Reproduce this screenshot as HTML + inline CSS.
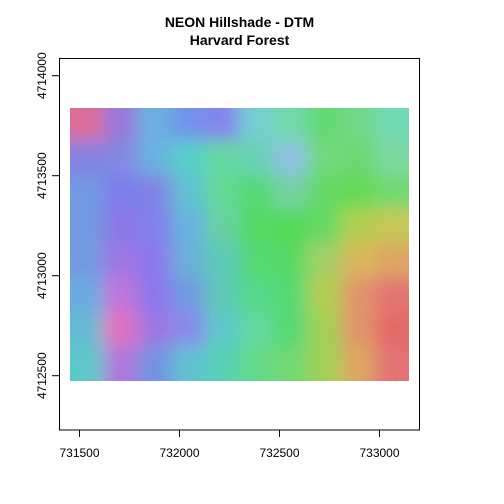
<!DOCTYPE html>
<html><head><meta charset="utf-8"><style>
html,body{margin:0;padding:0;background:#fff;}
svg{display:block;font-family:"Liberation Sans",Arial,sans-serif;}
</style></head><body>
<svg id="chart" width="504" height="504" viewBox="0 0 504 504">
<defs>
<filter id="blur" x="-10%" y="-10%" width="120%" height="120%"><feGaussianBlur stdDeviation="9"/><feColorMatrix type="saturate" values="1.3"/></filter>
<filter id="noise"><feTurbulence type="fractalNoise" baseFrequency="0.9" numOctaves="2" seed="3"/><feColorMatrix type="matrix" values="0 0 0 0 1  0 0 0 0 1  0 0 0 0 1  0 0 0 0.18 0"/></filter>
<clipPath id="rclip"><rect x="70" y="108" width="339" height="273"/></clipPath>
</defs>
<text x="239.5" y="27" text-anchor="middle" font-size="14" font-weight="bold">NEON Hillshade - DTM</text>
<text x="239.5" y="45" text-anchor="middle" font-size="14" font-weight="bold">Harvard Forest</text>
<g id="raster" clip-path="url(#rclip)"></g>
<rect x="59.5" y="58.5" width="360" height="371.5" fill="none" stroke="#000" stroke-width="1"/>
<g id="axes"></g>
</svg>
<script>
const xTicks=[731500,732000,732500,733000];
const yTicks=[4712500,4713000,4713500,4714000];
const extentX=[731452,733147];
const extentY=[4712479,4713844];
const colors=[
["#c86a8a","#8a70c8","#70a8d0","#7088d8","#7c7cd8","#80c8c8","#80d0a8","#78d080","#80d090","#80d0b0"],
["#7878d0","#7c80d0","#70a8d0","#70c8c0","#78d0a0","#78c8b0","#90b8d8","#80d088","#7cd080","#88d0a0"],
["#7090d0","#7474d8","#7878d0","#70b8c8","#78d098","#70d080","#80c8a0","#78d078","#78d070","#80d080"],
["#7090d0","#8070d0","#7878d8","#70a8d0","#78c8a0","#70d078","#70d070","#78d078","#b0c870","#c0c070"],
["#7090d0","#9070d0","#8070d8","#70a8c8","#70c0b0","#70d080","#70d078","#a0c878","#d0b070","#d0a070"],
["#70a0d0","#b070c8","#8070d8","#7090d0","#70c0b0","#70d090","#70d080","#b0c870","#d09070","#d07070"],
["#70b0c8","#d070b0","#9070d0","#8080d8","#70c0c0","#78d0a0","#70d080","#a0c870","#d09070","#d06868"],
["#70c0c0","#a070c8","#7088d0","#70b8c8","#70c8b0","#78d090","#80d080","#a0c870","#d0a070","#d07070"]
];
const NS="http://www.w3.org/2000/svg";
const sx=v=>79.5+(v-731500)*0.2;
const sy=v=>375.7-(v-4712500)*0.2;
const r=document.getElementById('raster');
const g=document.createElementNS(NS,'g');g.setAttribute('filter','url(#blur)');r.appendChild(g);
const x0=sx(extentX[0]),x1=sx(extentX[1]),y0=sy(extentY[1]),y1=sy(extentY[0]);
const nr=colors.length,nc=colors[0].length,cw=(x1-x0)/nc,ch=(y1-y0)/nr;
for(let i=-1;i<=nr;i++)for(let j=-1;j<=nc;j++){
 const ii=Math.min(nr-1,Math.max(0,i)),jj=Math.min(nc-1,Math.max(0,j));
 const c=document.createElementNS(NS,'rect');
 
 
 c.setAttribute('x',x0+j*cw);c.setAttribute('y',y0+i*ch);c.setAttribute('width',cw+1);c.setAttribute('height',ch+1);c.setAttribute('fill',colors[ii][jj]);g.appendChild(c);}
const n=document.createElementNS(NS,'rect');n.setAttribute('x',x0);n.setAttribute('y',y0);n.setAttribute('width',x1-x0);n.setAttribute('height',y1-y0);n.setAttribute('filter','url(#noise)');r.appendChild(n);
const ax=document.getElementById('axes');
xTicks.forEach(v=>{const x=sx(v);
 const l=document.createElementNS(NS,'line');
 
 
 l.setAttribute('x1',x);l.setAttribute('x2',x);l.setAttribute('y1',430);l.setAttribute('y2',437);l.setAttribute('stroke','#000');ax.appendChild(l);
 const t=document.createElementNS(NS,'text');
 
 
 t.setAttribute('x',x);t.setAttribute('y',457);t.setAttribute('text-anchor','middle');t.setAttribute('font-size','12');t.textContent=v;ax.appendChild(t);});
yTicks.forEach(v=>{const y=sy(v);
 const l=document.createElementNS(NS,'line');
 
 
 l.setAttribute('x1',52);l.setAttribute('x2',59.5);l.setAttribute('y1',y);l.setAttribute('y2',y);l.setAttribute('stroke','#000');ax.appendChild(l);
 const t=document.createElementNS(NS,'text');
 
 
 t.setAttribute('x',46);t.setAttribute('y',y);t.setAttribute('text-anchor','middle');t.setAttribute('font-size','12');t.setAttribute('transform','rotate(-90 46 '+y+')');t.textContent=v;ax.appendChild(t);});
</script>
</body></html>
